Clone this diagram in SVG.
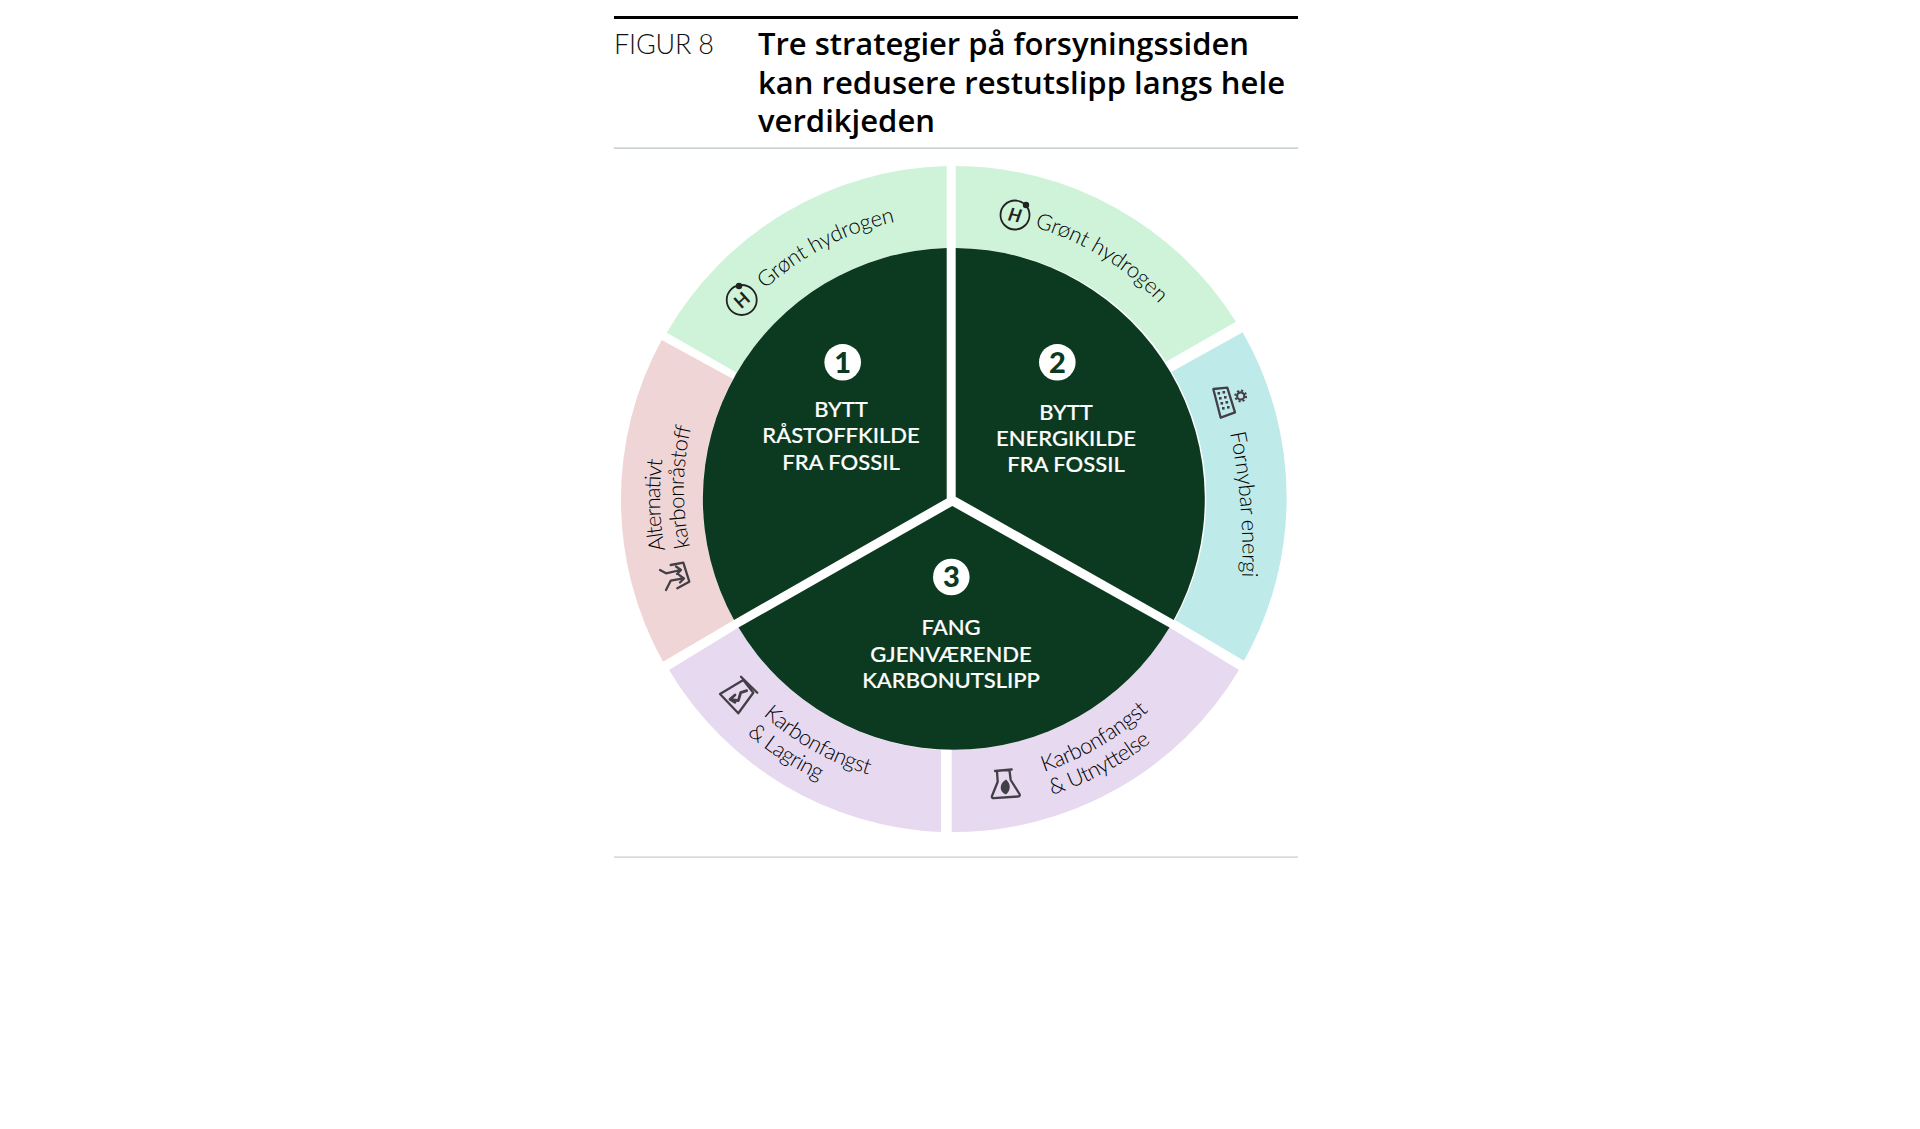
<svg xmlns="http://www.w3.org/2000/svg" xmlns:xlink="http://www.w3.org/1999/xlink" width="1920" height="1129" viewBox="0 0 1920 1129">
<style>
text{font-family:"Lato","Noto Sans",sans-serif}
.fig{font-size:27px;font-weight:300;fill:#111}
.title{font-family:"Open Sans","Noto Sans",sans-serif;font-size:31px;font-weight:600;fill:#000}
.lab{font-size:22px;font-weight:500;fill:#fff;text-anchor:middle;stroke:#fff;stroke-width:.2}
.num{font-size:29px;font-weight:900;fill:#0c3a20;text-anchor:middle}
.ring{font-size:22px;font-weight:300;fill:#000}
.dark{fill:#0c3a20}
.ic{fill:none;stroke:#433f47;stroke-width:2.3;stroke-linejoin:round;stroke-linecap:round}
.icd{fill:none;stroke:#222;stroke-width:1.8}
.H{font-size:18px;font-weight:700;fill:#222;text-anchor:middle}
</style>
<defs>
<path id="pGL" d="M765,289 A283 283 0 0 1 900,221"/>
<path id="pGR" d="M1034.6,227 A283 283 0 0 1 1172,318"/>
<path id="pFE" d="M1230,433 A600 600 0 0 1 1242,578"/>
<path id="pA1" d="M665,550 A292 292 0 0 1 663,455"/>
<path id="pA2" d="M690,547 A268 268 0 0 1 692,424"/>
<path id="pKL" d="M763,715 A288 288 0 0 0 880,778"/>
<path id="pLL" d="M747,734 A312 312 0 0 0 830,785"/>
<path id="pKR" d="M1044,772 A288 288 0 0 0 1160,700"/>
<path id="pUR" d="M1052,795 A312 312 0 0 0 1162,733"/>
</defs>
<rect width="1920" height="1129" fill="#fff"/>
<g id="header">
<rect x="614" y="16" width="684" height="3" fill="#000"/>
<rect x="614" y="147.5" width="684" height="1.2" fill="#b5c1bc"/>
<rect x="614" y="856.5" width="684" height="1.2" fill="#c3cdc9"/>
<text class="fig" x="614" y="54" textLength="100">FIGUR 8</text>
<text class="title" x="758" y="55" textLength="491">Tre strategier på forsyningssiden</text>
<text class="title" x="758" y="94" textLength="527">kan redusere restutslipp langs hele</text>
<text class="title" x="758" y="132" textLength="177">verdikjeden</text>
</g>
<g id="node-green-left">
<path fill="#cff3d9" d="M666.7,332.7 A333 333 0 0 1 946.7,166 L946.7,248 A251 251 0 0 0 736.7,372.7 Z"/>
<text class="ring"><textPath xlink:href="#pGL" href="#pGL" textLength="148">Grønt hydrogen</textPath></text>
<circle class="icd" cx="741.7" cy="300" r="15"/><circle cx="739" cy="286" r="3.2" fill="#222"/>
<text class="H" transform="translate(741.7 300) rotate(-42)" y="6.5">H</text>
</g>
<g id="node-green-right">
<path fill="#cff3d9" d="M955.7,166 A333 333 0 0 1 1236,321.7 L1166,361.7 A251 251 0 0 0 955.7,248 Z"/>
<text class="ring"><textPath xlink:href="#pGR" href="#pGR" textLength="148">Grønt hydrogen</textPath></text>
<circle class="icd" cx="1015" cy="215" r="14.5"/><circle cx="1026" cy="205" r="3.2" fill="#222"/>
<text class="H" transform="translate(1015 215) rotate(12)" y="6.5" font-style="italic">H</text>
</g>
<g id="node-pink">
<path fill="#f0d5d7" d="M661.7,340 A333 333 0 0 0 663,661.7 L734,620 A251 251 0 0 1 733,379 Z"/>
<text class="ring"><textPath xlink:href="#pA1" href="#pA1" textLength="91">Alternativt</textPath></text>
<text class="ring"><textPath xlink:href="#pA2" href="#pA2" textLength="121">karbonråstoff</textPath></text>
<path class="ic" d="M660,570 L666,573.3 L680.7,570 M676,566.5 L681,570 L677,574 M666,590 L670.7,580.7 L683.3,578.3 M679,574.8 L684,578.5 L680,582.5 M670.7,565 L683.3,562.7 L689.3,581.7 L677.3,588.3"/>
</g>
<g id="node-blue">
<path fill="#beebea" d="M1242.7,332.3 A333 333 0 0 1 1244,660.7 L1175,620 A251 251 0 0 0 1171.7,371.7 Z"/>
<text class="ring"><textPath xlink:href="#pFE" href="#pFE" textLength="145">Fornybar energi</textPath></text>
<path class="ic" d="M1213.3,389 L1227.3,387.7 L1235,412.3 L1220.7,417.7 Z"/>
<g fill="#433f47"><rect x="1217.5" y="392" width="2.6" height="2.6"/><rect x="1222.5" y="391" width="2.6" height="2.6"/><rect x="1219" y="397" width="2.6" height="2.6"/><rect x="1224" y="396" width="2.6" height="2.6"/><rect x="1220.5" y="402" width="2.6" height="2.6"/><rect x="1225.5" y="401" width="2.6" height="2.6"/><rect x="1222" y="407" width="2.6" height="2.6"/><rect x="1227" y="406" width="2.6" height="2.6"/></g>
<circle cx="1240.7" cy="396" r="3.6" fill="none" stroke="#433f47" stroke-width="2.2"/>
<circle cx="1240.7" cy="396" r="5.4" fill="none" stroke="#433f47" stroke-width="2" stroke-dasharray="2.1 2.1"/>
</g>
<g id="node-purple-left">
<path fill="#e7d9f0" d="M669,670 A333 333 0 0 0 941,832 L941,750 A251 251 0 0 1 738.5,627.5 Z"/>
<text class="ring"><textPath xlink:href="#pKL" href="#pKL" textLength="122">Karbonfangst</textPath></text>
<text class="ring"><textPath xlink:href="#pLL" href="#pLL" textLength="86">&amp; Lagring</textPath></text>
<path class="ic" d="M720,694 L743.3,680 L753.3,692.7 L738.3,713.3 Z M741,676.7 L757.3,692.7"/>
<path class="ic" style="stroke-width:2.8" d="M746.7,690.7 L740.7,692.7 L738.3,700.7 L730.7,699.3 M735,695 L730,699.3 L735,702.3"/>
</g>
<g id="node-purple-right">
<path fill="#e7d9f0" d="M951.7,832 A333 333 0 0 0 1239,670 L1169.5,627.5 A251 251 0 0 1 951.7,750 Z"/>
<text class="ring"><textPath xlink:href="#pKR" href="#pKR" textLength="122">Karbonfangst</textPath></text>
<text class="ring"><textPath xlink:href="#pUR" href="#pUR" textLength="113">&amp; Utnyttelse</textPath></text>
<path class="ic" d="M995,771 L1011.7,769.5 M997,771.5 L997.7,781.7 L992,796 Q991.5,798.3 994,798.2 L1018,796.5 Q1020.5,796.3 1019.5,794 L1010.7,780 L1009.5,770.5"/>
<path fill="#433f47" d="M1006,779.5 C1011,783.5 1011,790.5 1006,794.5 C1000,792.5 998,784.5 1006,779.5 Z"/>
</g>
<g id="node-1">
<path class="dark" d="M946.7,248 A251 251 0 0 0 734,620 L946.7,498.5 Z"/>
<circle cx="842.7" cy="362.3" r="18.3" fill="#fff"/>
<text class="num" x="842.7" y="372.5">1</text>
<text class="lab" x="841" y="417">BYTT</text>
<text class="lab" x="841" y="443">RÅSTOFFKILDE</text>
<text class="lab" x="841" y="469.5">FRA FOSSIL</text>
</g>
<g id="node-2">
<path class="dark" d="M955.7,248 A251 251 0 0 1 1173.7,620 L955.7,496.7 Z"/>
<circle cx="1057.3" cy="362.3" r="18.3" fill="#fff"/>
<text class="num" x="1057.3" y="372.5">2</text>
<text class="lab" x="1066" y="419.5">BYTT</text>
<text class="lab" x="1066" y="445.5">ENERGIKILDE</text>
<text class="lab" x="1066" y="472">FRA FOSSIL</text>
</g>
<g id="node-3">
<path class="dark" d="M738.5,627.5 A251 251 0 0 0 1169.5,627.5 L952.3,506 Z"/>
<circle cx="951.3" cy="577" r="18.3" fill="#fff"/>
<text class="num" x="951.3" y="587.2">3</text>
<text class="lab" x="951" y="635">FANG</text>
<text class="lab" x="951" y="661.5">GJENVÆRENDE</text>
<text class="lab" x="951" y="687.5">KARBONUTSLIPP</text>
</g>
<g id="connectors"></g>
</svg>
